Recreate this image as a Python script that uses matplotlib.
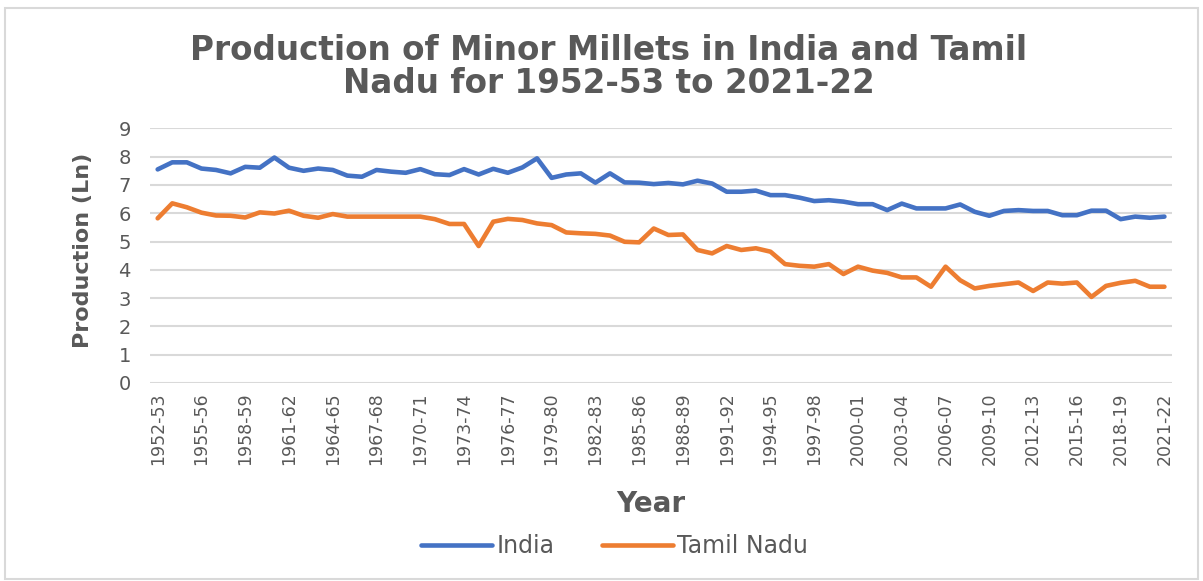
import matplotlib.pyplot as plt
from matplotlib.patches import Rectangle

# season labels 1952-53 ... 2021-22
YEARS = [f"{y}-{str(y + 1)[-2:]}" for y in range(1952, 2022)]

INDIA = [
    7.55, 7.80, 7.80, 7.58, 7.53, 7.41, 7.64, 7.61, 7.97, 7.61,
    7.50, 7.58, 7.53, 7.33, 7.29, 7.53, 7.47, 7.43, 7.56, 7.38,
    7.35, 7.56, 7.37, 7.57, 7.43, 7.62, 7.94, 7.25, 7.37, 7.41,
    7.08, 7.41, 7.09, 7.08, 7.03, 7.07, 7.02, 7.15, 7.05, 6.76,
    6.76, 6.80, 6.64, 6.64, 6.55, 6.43, 6.46, 6.41, 6.32, 6.32,
    6.11, 6.34, 6.17, 6.17, 6.17, 6.31, 6.05, 5.91, 6.08, 6.11,
    6.08, 6.08, 5.93, 5.93, 6.09, 6.09, 5.79, 5.88, 5.84, 5.88,
]

TAMIL_NADU = [
    5.82, 6.35, 6.21, 6.02, 5.92, 5.91, 5.85, 6.03, 5.99, 6.09,
    5.91, 5.84, 5.97, 5.88, 5.88, 5.88, 5.88, 5.88, 5.88, 5.79,
    5.62, 5.62, 4.84, 5.70, 5.80, 5.76, 5.64, 5.58, 5.32, 5.29,
    5.27, 5.21, 4.99, 4.97, 5.46, 5.23, 5.25, 4.70, 4.58, 4.84,
    4.70, 4.76, 4.64, 4.20, 4.14, 4.11, 4.20, 3.85, 4.11, 3.97,
    3.89, 3.73, 3.73, 3.40, 4.11, 3.63, 3.34, 3.43, 3.49, 3.55,
    3.25, 3.55, 3.51, 3.55, 3.04, 3.43, 3.54, 3.61, 3.40, 3.40,
]

GREY = "#595959"
BLUE = "#4472C4"
ORANGE = "#ED7D31"

fig = plt.figure(figsize=(12.03, 5.81), dpi=100)
ax = fig.add_axes([0.125, 0.341, 0.849, 0.438])

x = list(range(len(YEARS)))
ax.plot(x, INDIA, color=BLUE, lw=3.3, label="India", solid_capstyle="round")
ax.plot(x, TAMIL_NADU, color=ORANGE, lw=3.3, label="Tamil Nadu", solid_capstyle="round")

ax.set_xlim(-0.5, len(YEARS) - 0.5)
ax.set_ylim(0, 9)
ax.set_yticks(range(0, 10))
ax.set_xticks(x[::3])
ax.set_xticklabels(YEARS[::3], rotation=90, fontsize=12.5, color=GREY)
ax.tick_params(axis="y", labelsize=14, labelcolor=GREY, length=0, pad=14)
ax.tick_params(axis="x", length=0, pad=7)
ax.grid(axis="y", color="#d9d9d9", lw=1.5)
ax.set_axisbelow(True)
for s in ax.spines.values():
    s.set_visible(False)

ax.set_ylabel("Production (Ln)", fontsize=16, fontweight="bold", color=GREY)
ax.yaxis.set_label_coords(-0.056, 0.52)
ax.set_xlabel("Year", fontsize=20, fontweight="bold", color=GREY)
ax.xaxis.set_label_coords(0.49, -0.42)

fig.text(0.506, 0.885, "Production of Minor Millets in India and Tamil\nNadu for 1952-53 to 2021-22",
         ha="center", va="center", fontsize=23.5, fontweight="bold", color=GREY,
         linespacing=1.0)

fig.legend(loc="center", bbox_to_anchor=(0.511, 0.06), ncol=2, frameon=False,
           fontsize=17, labelcolor=GREY, handlelength=3.0, handletextpad=0.2, columnspacing=2.0)

fig.patches.append(Rectangle((0.004, 0.004), 0.992, 0.982, transform=fig.transFigure,
                             fill=False, edgecolor="#d9d9d9", lw=1.5))

fig.savefig("out.png", dpi=100)
